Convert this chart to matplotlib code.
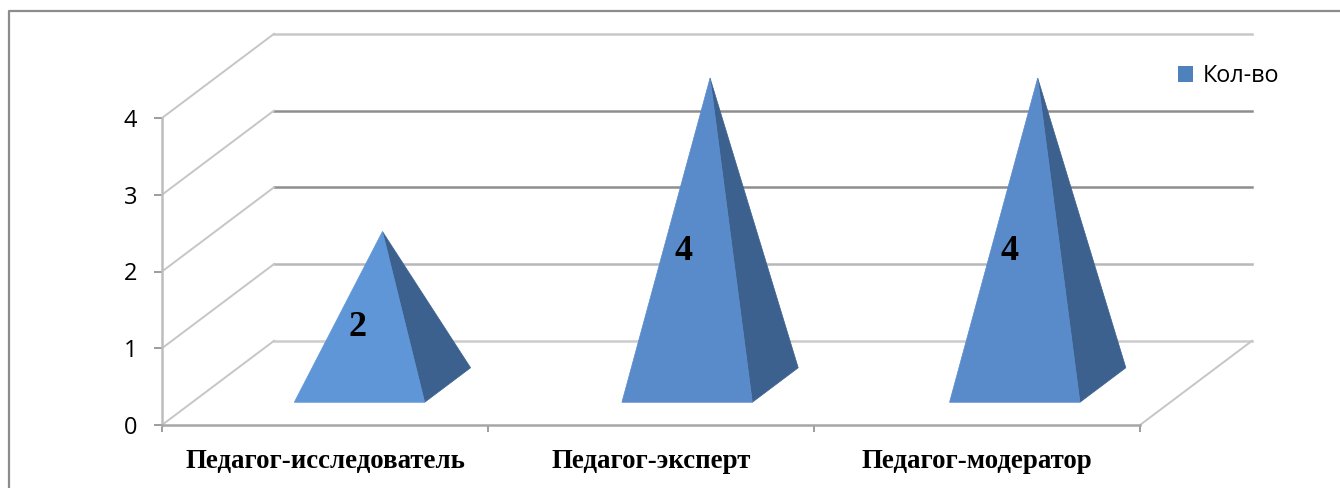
#!/usr/bin/env python3
import matplotlib
matplotlib.use('Agg')
import matplotlib.pyplot as plt
from matplotlib.lines import Line2D
from matplotlib.patches import Patch, Polygon

categories = ['Педагог-исследователь', 'Педагог-эксперт', 'Педагог-модератор']
values = [2, 4, 4]
y_ticks = [0, 1, 2, 3, 4]
series_name = 'Кол-во'

W, H = 1340, 488
# front plane of the fake 3d box, in pixels
LEFT, RIGHT, TOP, BOTTOM = 162, 1140, 118, 425

DEPTH_X = 112 / 326   # category units for full depth
DEPTH_Y = 84 / 76.6   # value units for full depth

grid_colors = ['#cccccc', '#b8b8b8', '#8e8e8e', '#8e8e8e', '#c8c8c8']


def project(x, y, z):
    return x + z * DEPTH_X, y + z * DEPTH_Y


fig = plt.figure(figsize=(W / 100, H / 100), dpi=100)
ax = fig.add_axes([LEFT / W, 1 - BOTTOM / H, (RIGHT - LEFT) / W, (BOTTOM - TOP) / H])
ax.set_xlim(0, 3)
ax.set_ylim(0, 4)
ax.patch.set_alpha(0)

# outer chart frame, only top and left are visible
fig.add_artist(Line2D([9 / W, 9 / W, 1], [0, 1 - 10.5 / H, 1 - 10.5 / H], color='#8c8c8c', lw=1.6))

# back wall gridlines and the oblique lines on the left wall
for v, c in zip(y_ticks, grid_colors):
    x0, y0 = project(0, v, 1)
    x1, y1 = project(3, v, 1)
    ax.plot([x0, x1], [y0, y1], color=c, lw=1.8, clip_on=False, zorder=1)
    ax.plot([0, x0], [v, y0], color='#c6c6c6', lw=1.4, clip_on=False, zorder=1)

# floor edge on the right
x0, y0 = project(3, 0, 1)
ax.plot([3, x0], [0, y0], color='#c6c6c6', lw=1.4, clip_on=False, zorder=1)

# pyramids
half_w = 0.2
z_front, z_back = 0.27, 0.68
for i, v in enumerate(values):
    c = 0.513 + i * 1.005
    apex = project(c, v, (z_front + z_back) / 2)
    front_l = project(c - half_w, 0, z_front)
    front_r = project(c + half_w, 0, z_front)
    back_r = project(c + half_w, 0, z_back)
    front_color = '#5f96d7' if v == 2 else '#598bcb'
    ax.add_patch(Polygon([back_r, front_r, apex], color='#3c618f', lw=0.5, clip_on=False, zorder=3))
    ax.add_patch(Polygon([front_l, front_r, apex], color=front_color, lw=0.5, clip_on=False, zorder=4))
    lx, ly = project(i + 0.507, v / 2 - 0.03, z_front)
    ax.text(lx, ly, str(v), family='Liberation Serif', weight='bold', fontsize=26,
            color='black', ha='center', va='center', zorder=5)

# axes
for side in ['top', 'right']:
    ax.spines[side].set_visible(False)
ax.spines['left'].set_color('#bdbdbd')
ax.spines['left'].set_linewidth(1.8)
ax.spines['bottom'].set_color('#a6a6a6')
ax.spines['bottom'].set_linewidth(1.8)

ax.set_yticks(y_ticks)
ax.set_yticklabels([str(t) for t in y_ticks], family='Open Sans', fontsize=17)
ax.tick_params(axis='y', length=6, width=1.2, color='#8c8c8c', pad=12)

ax.set_xticks([0, 1, 2, 3])
ax.set_xticklabels([])
ax.tick_params(axis='x', which='major', length=5, width=1.2, color='#8c8c8c')
ax.set_xticks([0.5, 1.5, 2.5], minor=True)
ax.set_xticklabels(categories, minor=True, family='Liberation Serif', weight='bold', fontsize=19.4)
ax.tick_params(axis='x', which='minor', length=0, pad=17)

handle = Patch(facecolor='#4f81bd', label=series_name)
fig.legend(handles=[handle], loc='center left', bbox_to_anchor=(1171 / W, 1 - 76 / H),
           frameon=False, prop={'family': 'Open Sans', 'size': 16.8},
           handlelength=0.66, handleheight=0.66, handletextpad=0.4, borderpad=0.3, borderaxespad=0)

fig.savefig('out.png', dpi=100, facecolor='white')
